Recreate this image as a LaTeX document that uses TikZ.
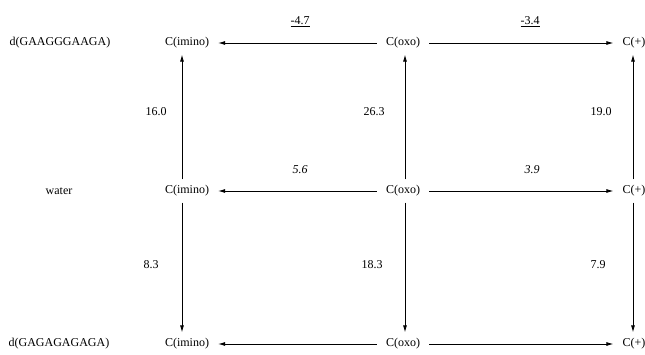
\documentclass[tikz,border=0pt]{standalone}
\usepackage{fontspec}
\setmainfont{Liberation Serif}
\usetikzlibrary{arrows.meta}
\begin{document}
\begin{tikzpicture}[x=1pt,y=1pt,
  every node/.style={font=\fontsize{12}{14}\selectfont},
  st/.style={inner xsep=9pt,inner ysep=6pt},
  lab/.style={inner sep=0pt},
  arr/.style={line width=0.8pt,-{Latex[length=7pt,width=4pt]}}]
\useasboundingbox (0,0) rectangle (645,354);
% row labels
\node[lab] (l1) at (60,311) {d(GAAGGGAAGA)};
\node[lab] (l2) at (59,163) {water};
\node[lab] (l3) at (59,10) {d(GAGAGAGAGA)};
% states
\node[st] (ti) at (187,311) {C(imino)};
\node[st] (to) at (403,311) {C(oxo)};
\node[st] (tp) at (634,311) {C(+)};
\node[st] (mi) at (187,163) {C(imino)};
\node[st] (mo) at (403,163) {C(oxo)};
\node[st] (mp) at (634,163) {C(+)};
\node[st] (bi) at (187,10) {C(imino)};
\node[st] (bo) at (403,10) {C(oxo)};
\node[st] (bp) at (634,10) {C(+)};
% horizontal arrows
\draw[arr] (to) -- (ti);
\draw[arr] (to) -- (tp);
\draw[arr] (mo) -- (mi);
\draw[arr] (mo) -- (mp);
\draw[arr] (bo) -- (bi);
\draw[arr] (bo) -- (bp);
% vertical arrows
\draw[arr] ([xshift=-5pt]mi.north) -- ([xshift=-5pt]ti.south);
\draw[arr] ([xshift=2pt]mo.north) -- ([xshift=2pt]to.south);
\draw[arr] ([xshift=-1pt]mp.north) -- ([xshift=-1pt]tp.south);
\draw[arr] ([xshift=-5pt]mi.south) -- ([xshift=-5pt]bi.north);
\draw[arr] ([xshift=2pt]mo.south) -- ([xshift=2pt]bo.north);
\draw[arr] ([xshift=-1pt]mp.south) -- ([xshift=-1pt]bp.north);
% labels
\node[lab] (e1) at (300,332) {\underline{-4.7}};
\node[lab] (e2) at (530,332) {\underline{-3.4}};
\node[lab] (e3) at (300,184) {\itshape 5.6};
\node[lab] (e4) at (532,184) {\itshape 3.9};
\node[lab] (v1) at (156,242) {16.0};
\node[lab] (v2) at (374,242) {26.3};
\node[lab] (v3) at (601,242) {19.0};
\node[lab] (v4) at (151,89) {8.3};
\node[lab] (v5) at (372,89) {18.3};
\node[lab] (v6) at (598,89) {7.9};
\end{tikzpicture}
\end{document}
